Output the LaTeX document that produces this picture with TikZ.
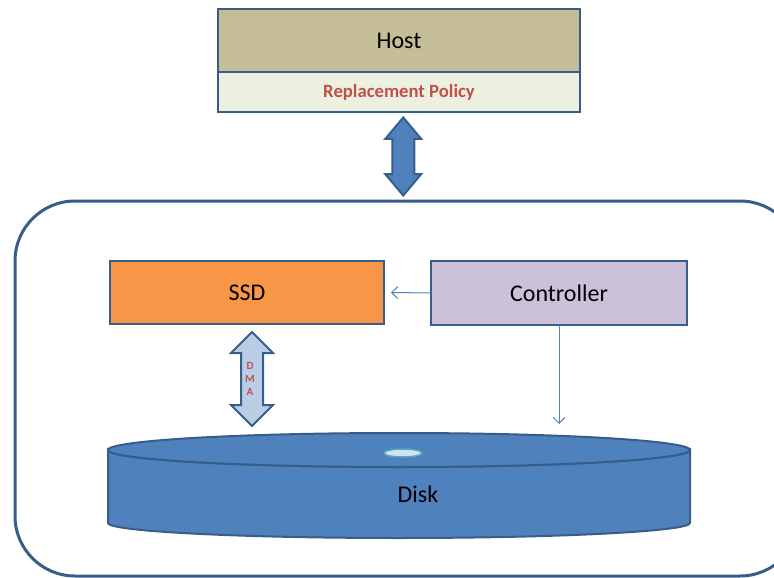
\documentclass[tikz,border=0pt]{standalone}
\usepackage{fontspec}
\setmainfont{Carlito}
\usetikzlibrary{positioning,arrows.meta,shapes.arrows,calc}

\definecolor{edgeblue}{HTML}{385D8A}
\definecolor{diskblue}{HTML}{4F81BD}
\definecolor{hosttan}{HTML}{C4BD97}
\definecolor{policygreen}{HTML}{EBF1DE}
\definecolor{policyred}{HTML}{C0504D}
\definecolor{ssdorange}{HTML}{F79646}
\definecolor{ctrllilac}{HTML}{CCC1DA}
\definecolor{dmablue}{HTML}{B9CDE5}
\definecolor{glowcyan}{HTML}{4BACC6}

\tikzset{
    box/.style={draw=edgeblue, line width=2.5pt, outer sep=0pt, inner sep=0pt,
        font=\fontsize{24}{28}\selectfont},
    fatarrow/.style={double arrow, draw=edgeblue, line width=2pt, inner xsep=0pt,
        inner ysep=10pt, outer sep=0pt, rotate=90},
    thinlink/.style={draw=diskblue, line width=1pt,
        -{Straight Barb[length=6pt,width=12pt]}},
}

\begin{document}
\begin{tikzpicture}[x=1pt, y=-1pt]
\path[use as bounding box] (0,0) rectangle (774,578);
\clip (0,0) rectangle (774,578);

% host side
\node[box, fill=hosttan, minimum width=362, minimum height=63] (host) at (399,40.5) {Host};
\node[box, fill=policygreen, minimum width=362, minimum height=40, below=0pt of host,
    text=policyred, font=\fontsize{18.7}{22}\selectfont\bfseries] (policy) {Replacement Policy};

% storage side
\node[draw=edgeblue, line width=3pt, rounded corners=60pt, outer sep=0pt,
    minimum width=785, minimum height=375] (store) at (407.5,388.5) {};

\node[fatarrow, fill=diskblue, minimum height=78,
    double arrow head extend=7pt, double arrow tip angle=80]
    (link) at ($(policy.south)!0.5!(store.north)$) {};

\node[box, fill=ssdorange, minimum width=274, minimum height=63] (ssd) at (247,292.5) {SSD};
\node[box, fill=ctrllilac, minimum width=256, minimum height=64] (ctrl) at (559,293) {Controller};

\node[fatarrow, fill=dmablue, minimum height=94,
    double arrow head extend=10pt] (dma) at (252,379) {};
\node[text=policyred, font=\fontsize{11}{13}\selectfont\bfseries, align=center]
    at ([xshift=-2pt]dma.center) {D\\M\\A};

% disk
\draw[draw=edgeblue, fill=diskblue, line width=2pt]
    (108,450) -- (108,523) arc[start angle=180, end angle=0, x radius=291, y radius=15]
    -- (690,450) arc[start angle=0, end angle=180, x radius=291, y radius=17] -- cycle;
\draw[draw=edgeblue, fill=diskblue, line width=2pt] (399,450) ellipse[x radius=291, y radius=17];
\draw[draw=glowcyan, fill=dmablue!60!white, line width=1.5pt] (403,453) ellipse[x radius=19, y radius=4];
\node[font=\fontsize{24}{28}\selectfont] (disk) at (418,494) {Disk};
\coordinate (diskin) at (559,424);

\draw[thinlink] (ctrl.west) -- ([xshift=7pt]ssd.east);
\draw[thinlink] (ctrl.south) -- (diskin);
\end{tikzpicture}
\end{document}
